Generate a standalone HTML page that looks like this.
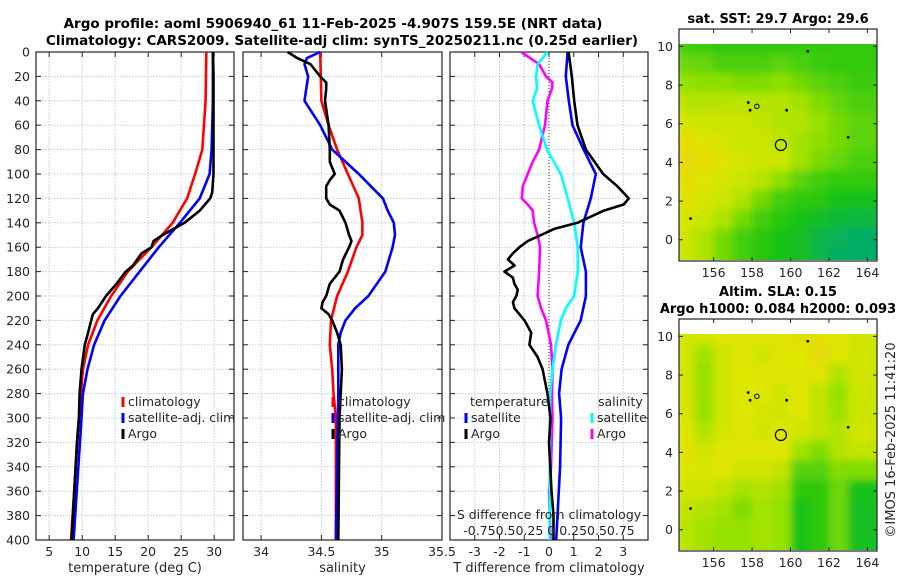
<!DOCTYPE html>
<html><head><meta charset="utf-8">
<style>
html,body{margin:0;padding:0;background:#fff;}
svg{display:block;font-family:"DejaVu Sans","Liberation Sans",sans-serif;}
</style></head>
<body>
<svg id="fig" width="900" height="580" viewBox="0 0 900 580">
<defs>
<filter id="blur" x="-10%" y="-10%" width="120%" height="120%"><feGaussianBlur stdDeviation="4"/></filter>
<clipPath id="clipm1"><rect x="679" y="44" width="198" height="216"/></clipPath>
<clipPath id="clipm2"><rect x="679" y="334" width="198" height="216"/></clipPath>
</defs>
<g font-weight="bold" font-size="13.5" text-anchor="middle" fill="#000">
<text x="333" y="28">Argo profile: aoml 5906940_61 11-Feb-2025 -4.907S 159.5E (NRT data)</text>
<text x="342" y="45">Climatology: CARS2009. Satellite-adj clim: synTS_20250211.nc (0.25d earlier)</text>
</g>
<g id="plots"></g>
</svg>
<script>
// ---------- data ----------
const depthTicks=[0,20,40,60,80,100,120,140,160,180,200,220,240,260,280,300,320,340,360,380,400];
const tempTicks=[5,10,15,20,25,30];
const salTicks=[34,34.5,35,35.5];
const tdiffTicks=[-3,-2,-1,0,1,2,3];

const tClimDepth=[0,40,80,100,120,140,160,180,200,220,240,260,280,300,400];
const tClimVal=[28.8,28.7,28.2,27.1,25.9,23.7,20.5,16.9,14.4,12.3,10.9,10.1,9.8,9.5,8.3];
const tSatDepth=[0,40,80,100,120,140,160,180,200,220,240,260,280,300,400];
const tSatVal=[29.8,29.8,29.6,29.3,27.8,24.8,21.6,18.7,15.8,13.4,11.8,10.8,10.1,9.9,8.7];
const tArgoDepth=[0,20,60,100,115,120,130,140,150,155,160,165,175,180,190,200,210,215,230,240,260,280,300,320,400];
const tArgoVal=[29.8,29.9,29.9,29.9,29.7,29.4,27.8,25.5,22.2,20.8,20.5,19.0,17.7,16.6,15.2,13.6,12.4,11.6,10.9,10.4,9.9,9.6,9.5,9.2,8.4];

const sClimDepth=[0,40,60,80,100,120,140,150,160,180,200,220,240,260,280,300,400];
const sClimVal=[34.49,34.50,34.56,34.63,34.72,34.81,34.84,34.84,34.79,34.72,34.63,34.58,34.57,34.59,34.60,34.62,34.62];
const sSatDepth=[0,5,10,20,40,60,80,100,120,130,140,150,160,180,200,210,220,230,240,260,280,400];
const sSatVal=[34.49,34.38,34.36,34.39,34.36,34.49,34.59,34.81,35.01,35.05,35.10,35.11,35.09,35.03,34.89,34.78,34.70,34.66,34.64,34.64,34.64,34.62];
const sArgoDepth=[0,5,10,20,25,30,40,60,80,90,100,105,110,120,125,130,140,150,155,160,170,180,190,200,205,210,215,220,230,240,260,280,300,400];
const sArgoVal=[34.22,34.30,34.41,34.49,34.54,34.54,34.53,34.56,34.57,34.57,34.61,34.57,34.54,34.54,34.57,34.65,34.70,34.73,34.75,34.73,34.68,34.65,34.57,34.54,34.51,34.50,34.56,34.59,34.63,34.66,34.67,34.66,34.65,34.64];

const dtSatDepth=[0,20,40,60,80,100,120,140,160,180,200,220,240,260,280,300,340,400];
const dtSatVal=[0.75,0.68,0.8,0.95,1.4,1.89,1.69,1.39,1.28,1.49,1.49,1.28,0.78,0.51,0.41,0.49,0.45,0.29];
const dtArgoDepth=[0,20,40,60,80,100,110,120,125,130,140,145,150,155,160,165,170,175,180,185,190,195,200,205,210,220,230,240,250,260,270,280,300,320,360,380,400];
const dtArgoVal=[0.79,0.92,1.02,1.15,1.49,2.19,2.76,3.22,3.02,2.22,1.15,0.21,-0.32,-0.86,-1.19,-1.46,-1.66,-1.39,-1.8,-1.46,-1.4,-1.26,-1.32,-1.46,-1.4,-0.99,-0.72,-0.79,-0.46,-0.26,-0.16,-0.06,0.06,0.0,0.1,0.18,0.18];
const dsSatDepth=[0,10,20,30,40,60,80,100,120,140,160,180,200,210,220,240,260,280,300,400];
const dsSatVal=[-0.015,-0.115,-0.13,-0.12,-0.165,-0.1,-0.02,0.12,0.19,0.255,0.29,0.29,0.255,0.17,0.12,0.07,0.035,0.012,0.01,0.005];
const dsArgoDepth=[0,10,20,25,30,40,60,80,90,100,110,120,125,130,140,150,160,180,200,210,220,240,260,280,300,340,360,400];
const dsArgoVal=[-0.28,-0.1,-0.03,0.035,0.03,-0.015,-0.04,-0.1,-0.165,-0.215,-0.265,-0.275,-0.215,-0.165,-0.15,-0.115,-0.09,-0.1,-0.115,-0.08,-0.03,0.02,0.035,0.03,0.035,0.02,0.0,0.015];

const mapLonTicks=[156,158,160,162,164];
const mapLatTicks=[0,2,4,6,8,10];
const sstGrid=[
[.4,.38,.36,.36,.36,.36,.36,.36,.36,.36],
[.5,.48,.42,.42,.42,.46,.42,.38,.36,.36],
[.6,.58,.58,.55,.55,.58,.52,.46,.42,.38],
[.72,.7,.72,.72,.7,.7,.64,.55,.48,.42],
[.8,.78,.78,.78,.74,.7,.7,.6,.52,.46],
[.9,.86,.82,.78,.78,.74,.64,.58,.52,.46],
[.92,.9,.86,.82,.78,.78,.64,.54,.48,.42],
[.9,.86,.82,.78,.72,.58,.46,.4,.36,.36],
[.86,.82,.78,.68,.52,.4,.36,.34,.3,.28],
[.82,.78,.68,.52,.4,.34,.3,.24,.18,.16],
[.78,.68,.52,.4,.34,.3,.24,.14,.08,.05],
[.78,.68,.52,.4,.34,.3,.24,.14,.06,.04]];
const slaGrid=[
[.8,.82,.85,.85,.85,.85,.9,.88,.85,.8],
[.8,.65,.8,.85,.8,.85,.85,.92,.85,.8],
[.8,.6,.8,.85,.85,.85,.85,.85,.7,.8],
[.82,.62,.8,.85,.85,.8,.85,.75,.6,.78],
[.82,.6,.8,.85,.82,.8,.85,.75,.62,.78],
[.85,.7,.82,.85,.8,.85,.8,.75,.7,.8],
[.88,.8,.85,.85,.85,.85,.65,.55,.7,.75],
[.85,.82,.85,.8,.8,.75,.45,.45,.55,.55],
[.8,.8,.75,.65,.7,.65,.35,.35,.5,.3],
[.75,.7,.65,.55,.65,.6,.3,.35,.5,.25],
[.72,.65,.6,.6,.65,.6,.3,.35,.5,.25],
[.72,.65,.6,.6,.65,.6,.3,.35,.5,.25]];
const argoLon=159.5, argoLat=4.9;
const islandLon=[158.25,160.9,163.0,154.8,157.8,159.8,157.9];
const islandLat=[6.9,9.75,5.3,1.1,7.1,6.7,6.7];

// ---------- helpers ----------
const NS="http://www.w3.org/2000/svg";
const root=document.getElementById('plots');
function mk(tag,attrs,parent){const e=document.createElementNS(NS,tag);for(const k in attrs)e.setAttribute(k,attrs[k]);(parent||root).appendChild(e);return e;}
const TOP=52,BOT=540;
function yD(d){return TOP+(d/400)*(BOT-TOP);}

function panel(name,x0,x1,xmin,xmax,ticks,labels,xtitle,showDepth){
  const g=mk('g',{});
  
  
  const sx=v=>x0+(v-xmin)/(xmax-xmin)*(x1-x0);
  depthTicks.forEach(d=>{ if(d>0&&d<400) mk('line',{x1:x0,x2:x1,y1:yD(d),y2:yD(d),stroke:'#c4c8e8','stroke-width':1,'stroke-dasharray':'1.5,1.5'},g);});
  ticks.forEach(t=>{const x=sx(t); if(x>x0+1&&x<x1-1) mk('line',{x1:x,x2:x,y1:TOP,y2:BOT,stroke:'#c4c8e8','stroke-width':1,'stroke-dasharray':'1.5,1.5'},g);});
  depthTicks.forEach(d=>{const y=yD(d);mk('line',{x1:x0,x2:x0+5,y1:y,y2:y,stroke:'#222'},g);mk('line',{x1:x1,x2:x1-5,y1:y,y2:y,stroke:'#222'},g);});
  ticks.forEach(t=>{const x=sx(t);mk('line',{x1:x,x2:x,y1:BOT,y2:BOT-5,stroke:'#222'},g);mk('line',{x1:x,x2:x,y1:TOP,y2:TOP+5,stroke:'#222'},g);});
  mk('rect',{x:x0,y:TOP,width:x1-x0,height:BOT-TOP,fill:'none',stroke:'#222','stroke-width':1.2},g);
  ticks.forEach((t,i)=>{const tx=mk('text',{x:sx(t),y:556,'font-size':12.5,'text-anchor':'middle',fill:'#262626'},g);tx.textContent=labels[i];
    
    });
  const xt=mk('text',{x:(x0+x1)/2,y:572,'font-size':13,'text-anchor':'middle',fill:'#262626'},g);xt.textContent=xtitle;
  
  
  if(showDepth){depthTicks.forEach(d=>{const tx=mk('text',{x:30,y:yD(d)+4.5,'font-size':12.5,'text-anchor':'end',fill:'#262626'},g);tx.textContent=d;
    
    });}
  return {g,sx};
}
function series(p,name,depths,vals,color,scale){
  const pts=depths.map((d,i)=>p.sx(vals[i]*(scale||1)).toFixed(1)+','+yD(d).toFixed(1)).join(' ');
  const e=mk('polyline',{points:pts,fill:'none',stroke:color,'stroke-width':2.6,'stroke-linejoin':'round'},p.g);
  
  
}
function legend(p,x,y,color,label){
  const m=mk('rect',{x:x-1.5,y:y-9,width:3,height:10,fill:color},p.g);
  
  
  const t=mk('text',{x:x+5,y:y,'font-size':12.5,fill:'#262626'},p.g);t.textContent=label;
  
  
}

const p1=panel('temperature-panel',36,234,3,33,tempTicks,tempTicks.map(String),'temperature (deg C)',true);
series(p1,'temp-climatology-line',tClimDepth,tClimVal,'#ff0000');
series(p1,'temp-satellite-line',tSatDepth,tSatVal,'#0000ff');
series(p1,'temp-argo-line',tArgoDepth,tArgoVal,'#000000');
legend(p1,123,406,'#ff0000','climatology');
legend(p1,123,422,'#0000ff','satellite-adj. clim');
legend(p1,123,438,'#000000','Argo');

const p2=panel('salinity-panel',243,442,33.85,35.5,salTicks,['34','34.5','35','35.5'],'salinity',false);
series(p2,'sal-climatology-line',sClimDepth,sClimVal,'#ff0000');
series(p2,'sal-satellite-line',sSatDepth,sSatVal,'#0000ff');
series(p2,'sal-argo-line',sArgoDepth,sArgoVal,'#000000');
legend(p2,333,406,'#ff0000','climatology');
legend(p2,333,422,'#0000ff','satellite-adj. clim');
legend(p2,333,438,'#000000','Argo');

const p3=panel('difference-panel',450,648,-4,4,tdiffTicks,tdiffTicks.map(String),'T difference from climatology',false);
const zl=mk('line',{x1:p3.sx(0),x2:p3.sx(0),y1:TOP,y2:BOT,stroke:'#333','stroke-width':1,'stroke-dasharray':'1,2'},p3.g);


series(p3,'salt-diff-argo-line',dsArgoDepth,dsArgoVal,'#ff00ff',4);
series(p3,'salt-diff-satellite-line',dsSatDepth,dsSatVal,'#00ffff',4);
series(p3,'temp-diff-satellite-line',dtSatDepth,dtSatVal,'#0000ff');
series(p3,'temp-diff-argo-line',dtArgoDepth,dtArgoVal,'#000000');
(function(){
  const t1=mk('text',{x:470,y:406,'font-size':12.5,fill:'#262626'},p3.g);t1.textContent='temperature';
  
  
  const t2=mk('text',{x:598,y:406,'font-size':12.5,fill:'#262626'},p3.g);t2.textContent='salinity';
  
  
})();
legend(p3,466,422,'#0000ff','satellite');
legend(p3,466,438,'#000000','Argo');
legend(p3,592,422,'#00ffff','satellite');
legend(p3,592,438,'#ff00ff','Argo');
(function(){
  const a=mk('text',{x:549,y:519,'font-size':12.5,'text-anchor':'middle',fill:'#262626'},p3.g);a.textContent='S difference from climatology';
  
  
  const b=mk('text',{x:549,y:535,'font-size':12.5,'text-anchor':'middle',fill:'#262626'},p3.g);b.textContent='-0.750.50.25 0 0.250.50.75';
  
  
})();

// ---------- maps ----------
function cmap(v){
  const st=[[0,[0,170,115]],[0.3,[25,195,20]],[0.6,[150,225,0]],[0.85,[222,230,0]],[1,[240,205,15]]];
  for(let i=1;i<st.length;i++){if(v<=st[i][0]){const a=st[i-1],b=st[i],f=(v-a[0])/(b[0]-a[0]);
    return 'rgb('+a[1].map((c,k)=>Math.round(c+(b[1][k]-c)*f)).join(',')+')';}}
  return 'rgb(240,205,15)';
}
function drawMap(name,top,dataTop,grid,titles,clip){
  const L=679,R=877,B=top+232;
  const lonMin=154.2,lonMax=164.5,latMin=-1.1,latMax=10.9;
  const mx=lo=>L+(lo-lonMin)/(lonMax-lonMin)*(R-L);
  const my=la=>top+(latMax-la)/(latMax-latMin)*(B-top);
  const g=mk('g',{});
  
  
  const cg=mk('g',{'clip-path':'url(#'+clip+')'},g);
  const bg=mk('g',{filter:'url(#blur)'},cg);
  grid.forEach((row,r)=>row.forEach((v,c)=>{
    const lo=154.5+c, la=10.1-r;
    const cell=mk('rect',{x:mx(lo-0.5),y:my(la+0.5),width:mx(lo+1.5)-mx(lo-0.5),height:my(la-1.5)-my(la+0.5),fill:cmap(v)},bg);
    
    
  }));
  mk('rect',{x:L,y:top,width:R-L,height:dataTop-top,fill:'#fff'},g);
  islandLon.forEach((lo,i)=>{const d=mk('circle',{cx:mx(lo),cy:my(islandLat[i]),r:i===0?2.2:0.9,fill:i===0?'none':'#000',stroke:'#000','stroke-width':1},g);
    
    });
  const pc=mk('circle',{cx:mx(argoLon),cy:my(argoLat),r:5.5,fill:'none',stroke:'#000','stroke-width':1.2},g);
  
  
  mapLatTicks.forEach(la=>{const y=my(la);mk('line',{x1:L,x2:L+4,y1:y,y2:y,stroke:'#222'},g);mk('line',{x1:R,x2:R-4,y1:y,y2:y,stroke:'#222'},g);
    const t=mk('text',{x:673,y:y+4.5,'font-size':12.5,'text-anchor':'end',fill:'#262626'},g);t.textContent=la;
    
    });
  mapLonTicks.forEach(lo=>{const x=mx(lo);mk('line',{x1:x,x2:x,y1:B,y2:B-4,stroke:'#222'},g);mk('line',{x1:x,x2:x,y1:top,y2:top+4,stroke:'#222'},g);
    const t=mk('text',{x:x,y:B+16,'font-size':12.5,'text-anchor':'middle',fill:'#262626'},g);t.textContent=lo;
    
    });
  mk('rect',{x:L,y:top,width:R-L,height:B-top,fill:'none',stroke:'#222','stroke-width':1.2},g);
  titles.forEach((tt,i)=>{const t=mk('text',{x:778,y:tt[1],'font-size':13,'font-weight':'bold','text-anchor':'middle',fill:'#000'},g);t.textContent=tt[0];
    
    });
}
drawMap('sst-map',29,44,sstGrid,[['sat. SST: 29.7 Argo: 29.6',23]],'clipm1');
drawMap('sla-map',319,334,slaGrid,[['Altim. SLA: 0.15',296],['Argo h1000: 0.084 h2000: 0.093',313]],'clipm2');
(function(){
  const t=mk('text',{x:895,y:440,'font-size':13,'text-anchor':'middle',fill:'#262626',transform:'rotate(-90 895 440)'});
  t.textContent='©IMOS 16-Feb-2025 11:41:20';
  
  
})();
</script>
</body></html>
